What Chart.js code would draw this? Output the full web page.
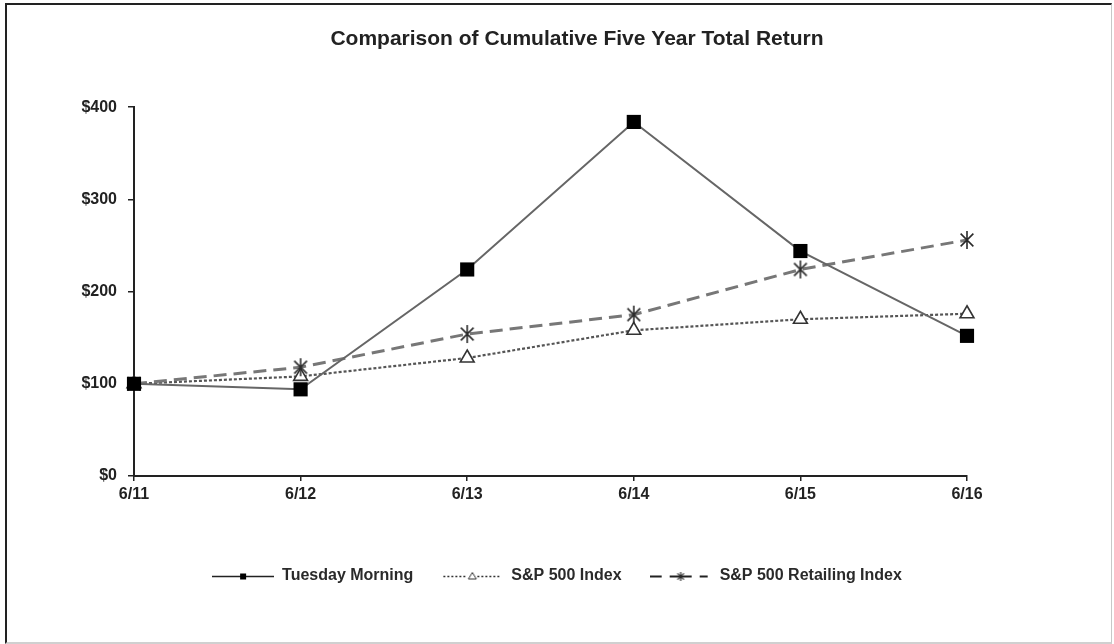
<!DOCTYPE html>
<html>
<head>
<meta charset="utf-8">
<script src="https://cdn.jsdelivr.net/npm/chart.js@4.4.1/dist/chart.umd.min.js"></script>
<style>
  html, body { margin: 0; padding: 0; background: #fff; }
  #wrap { position: relative; width: 1114px; height: 644px; }
  #frame { position: absolute; left: 5px; top: 3px; width: 1104px; height: 637px;
           border-left: 2px solid #222; border-top: 2px solid #222;
           border-right: 1px solid #c8c8c8; border-bottom: 2px solid #d0d0d0; pointer-events: none; }
  canvas { position: absolute; left: 0; top: 0; }
</style>
</head>
<body>
<div id="wrap">
  <canvas id="c" width="1114" height="644"></canvas>
  <div id="frame"></div>
</div>
<script>
const chartTitle = 'Comparison of Cumulative Five Year Total Return';
const categories = ['6/11', '6/12', '6/13', '6/14', '6/15', '6/16'];
const seriesNames = ['Tuesday Morning', 'S&P 500 Index', 'S&P 500 Retailing Index'];
const tuesdayMorning = [100, 94, 224, 384, 244, 152];
const sp500Index = [100, 108, 128, 158, 170, 176];
const sp500Retailing = [100, 118, 154, 175, 224, 256];
const yTickValues = [0, 100, 200, 300, 400];

const FONT = "'Liberation Sans', Arial, sans-serif";

function makeCanvas(w, h) { const c = document.createElement('canvas'); c.width = w; c.height = h; return c; }

// asterisk marker for retailing index
function starImage(size, lw) {
  const c = makeCanvas(size, size); const g = c.getContext('2d');
  const m = size / 2, r = size / 2 - 1;
  g.strokeStyle = '#2a2a2a'; g.lineWidth = lw; g.lineCap = 'butt';
  g.beginPath();
  g.moveTo(m, m - r); g.lineTo(m, m + r);
  const dx = r * Math.cos(Math.PI / 4), dy = r * Math.sin(Math.PI / 4);
  g.moveTo(m - dx, m - dy); g.lineTo(m + dx, m + dy);
  g.moveTo(m + dx, m - dy); g.lineTo(m - dx, m + dy);
  g.stroke();
  return c;
}

function legendImage(kind) {
  const w = 62, h = 16; const c = makeCanvas(w, h); const g = c.getContext('2d');
  const cy = 8.5, cx = 31;
  g.strokeStyle = '#222';
  if (kind === 0) {
    g.lineWidth = 1.6; g.beginPath(); g.moveTo(0, cy); g.lineTo(w, cy); g.stroke();
    g.fillStyle = '#000'; g.fillRect(cx - 3, cy - 3, 6, 6);
  } else if (kind === 1) {
    g.lineWidth = 1.4; g.setLineDash([2, 2]); g.strokeStyle = '#333';
    g.beginPath(); g.moveTo(2, cy); g.lineTo(26, cy); g.moveTo(36, cy); g.lineTo(w - 2, cy); g.stroke();
    g.setLineDash([]); g.lineWidth = 1;
    g.beginPath(); g.moveTo(cx, cy - 4); g.lineTo(cx + 4, cy + 2.5); g.lineTo(cx - 4, cy + 2.5); g.closePath(); g.stroke();
  } else {
    g.lineWidth = 1.8;
    g.beginPath(); g.moveTo(0, cy); g.lineTo(12, cy); g.moveTo(20, cy); g.lineTo(42, cy); g.moveTo(50, cy); g.lineTo(w - 4, cy); g.stroke();
    g.drawImage(starImage(11, 1.2), cx - 5.5, cy - 5.5);
  }
  return c;
}

const starPoint = starImage(20, 1.6);
const legendIcons = [legendImage(0), legendImage(1), legendImage(2)];

const titleShift = {
  id: 'titleShift',
  afterLayout(chart) {
    const tb = chart.titleBlock;
    if (tb && !tb._shifted) {
      const orig = tb.draw.bind(tb);
      tb.draw = function () { const ctx = this.ctx; ctx.save(); ctx.translate(20, 0); orig(); ctx.restore(); };
      tb._shifted = true;
    }
  }
};

new Chart(document.getElementById('c'), {
  type: 'line',
  data: {
    labels: categories,
    datasets: [
      { label: seriesNames[0], data: tuesdayMorning, borderColor: '#666', borderWidth: 2,
        pointStyle: 'rect', pointRadius: 10, pointBackgroundColor: '#000', pointBorderColor: '#000', pointBorderWidth: 0,
        tension: 0, clip: false, order: 1 },
      { label: seriesNames[1], data: sp500Index, borderColor: '#555', borderWidth: 2.2, borderDash: [3, 2],
        pointStyle: 'triangle', pointRadius: 8, pointBackgroundColor: '#fff', pointBorderColor: '#333', pointBorderWidth: 1.6,
        tension: 0, clip: false, order: 3 },
      { label: seriesNames[2], data: sp500Retailing, borderColor: '#777', borderWidth: 3, borderDash: [13, 7],
        pointStyle: starPoint, pointRadius: 10,
        tension: 0, clip: false, order: 2 }
    ]
  },
  options: {
    responsive: false,
    animation: false,
    events: [],
    layout: { padding: { left: 0, right: 0, top: 0, bottom: 50 } },
    plugins: {
      title: { display: true, text: chartTitle, color: '#222',
               font: { family: FONT, size: 21, weight: 'bold', lineHeight: 1.2 },
               padding: { top: 27, bottom: 55 } },
      legend: { position: 'bottom',
        labels: { usePointStyle: true, pointStyleWidth: 62, padding: 28, color: '#2a2a2a',
          font: { family: FONT, size: 16, weight: 'bold' },
          generateLabels: (chart) => chart.data.datasets.map((ds, i) => ({
            text: ds.label, pointStyle: legendIcons[i], fillStyle: 'rgba(0,0,0,0)', strokeStyle: 'rgba(0,0,0,0)',
            lineWidth: 0, datasetIndex: i, fontColor: '#2a2a2a', hidden: false
          }))
        } },
      tooltip: { enabled: false }
    },
    scales: {
      x: { type: 'category', offset: false,
        grid: { drawOnChartArea: false, drawTicks: true, tickLength: 5, color: '#222', lineWidth: 1.5 },
        border: { display: true, color: '#222', width: 2 },
        ticks: { padding: 4, color: '#222', font: { family: FONT, size: 16, weight: 'bold' }, maxRotation: 0 },
        afterFit: (s) => { s.height = 64; } },
      y: { type: 'linear', position: 'left', min: 0, max: 400,
        afterBuildTicks: (s) => { s.ticks = yTickValues.map(v => ({ value: v })); },
        grid: { drawOnChartArea: false, drawTicks: true, tickLength: 6, color: '#222', lineWidth: 1.5 },
        border: { display: true, color: '#222', width: 2 },
        ticks: { padding: 11, color: '#222', font: { family: FONT, size: 16, weight: 'bold' },
                 callback: (v) => '$' + v },
        afterFit: (s) => { s.width = 134; } },
      y2: { type: 'linear', position: 'right', display: true, min: 0, max: 400,
        grid: { display: false }, border: { display: false }, ticks: { display: false },
        afterFit: (s) => { s.width = 147; } }
    }
  },
  plugins: [titleShift]
});
</script>
</body>
</html>
